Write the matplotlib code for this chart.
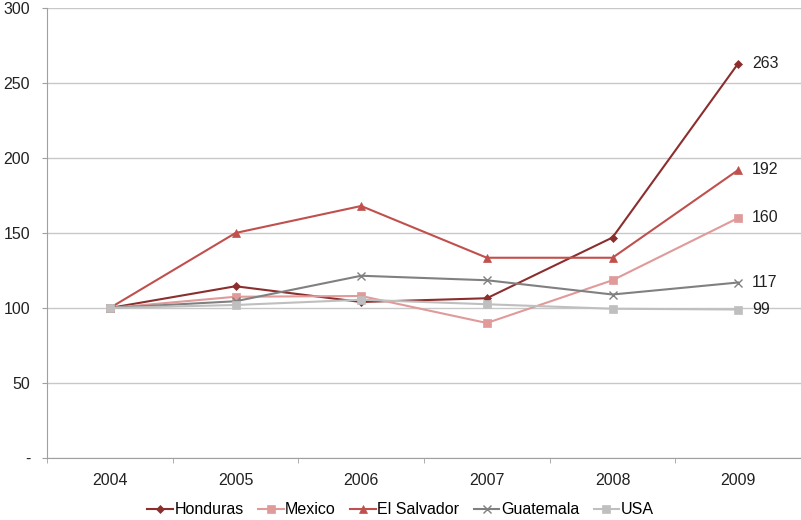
import matplotlib
matplotlib.use("Agg")
import matplotlib.pyplot as plt
from matplotlib.ticker import FixedLocator

plt.rcParams['font.family'] = ['Liberation Sans', 'DejaVu Sans']

years = ["2004", "2005", "2006", "2007", "2008", "2009"]
honduras = [100, 114.5, 104, 106.5, 147, 263]
mexico = [100, 107.5, 108, 90, 118.5, 160]
el_salvador = [100, 150, 168, 133.5, 133.5, 192]
guatemala = [100, 104.5, 121.5, 118.5, 109, 117]
usa = [100, 102, 105.5, 102.5, 99.5, 99]

series = [
    ("Honduras", honduras, "#8B2E2E", "D", 4.5),
    ("Mexico", mexico, "#E09A9A", "s", 6),
    ("El Salvador", el_salvador, "#C0504D", "^", 6),
    ("Guatemala", guatemala, "#808080", "x", 6),
    ("USA", usa, "#BFBFBF", "s", 6),
]

fig = plt.figure(figsize=(8.01, 5.20), dpi=100)
ax = fig.add_axes([47 / 801, 62 / 520, 754 / 801, 450 / 520])

x = list(range(len(years)))
for name, vals, color, marker, ms in series:
    ax.plot(x, vals, color=color, marker=marker, markersize=ms, linewidth=1.5,
            markeredgewidth=1.0 if marker == "x" else 0.5,
            markeredgecolor=color, label=name, zorder=3)
    ax.annotate(f"{vals[-1]:.0f}", (x[-1], vals[-1]), xytext=(10, 0),
                textcoords="offset points", va="center", ha="left",
                fontsize=11.5, color="#222222")

ax.set_xlim(-0.5, len(years) - 0.5)
ax.set_ylim(0, 300)
ax.set_yticks(range(0, 301, 50))
ax.set_yticklabels(["-"] + [str(v) for v in range(50, 301, 50)])
ax.yaxis.grid(True, color="#C8C8C8", linewidth=1)
ax.set_axisbelow(True)

ax.set_xticks(x)
ax.set_xticklabels(years)
ax.xaxis.set_minor_locator(FixedLocator([i - 0.5 for i in range(len(years) + 1)]))
ax.tick_params(axis="x", which="major", length=0, pad=11, labelsize=11.5, labelcolor="#222222")
ax.tick_params(axis="x", which="minor", length=3.6, color="#A0A0A0", direction="out")
ax.tick_params(axis="y", length=3.6, color="#A0A0A0", pad=8.5, labelsize=11.5, labelcolor="#222222")

for side in ("top", "right"):
    ax.spines[side].set_visible(False)
for side in ("left", "bottom"):
    ax.spines[side].set_color("#A0A0A0")

fig.legend(loc="center", bbox_to_anchor=(0.5, 10 / 520), ncol=5, frameon=False,
           fontsize=11.5, handlelength=1.6, handletextpad=0.1, columnspacing=0.9,
           borderpad=0)

fig.savefig("out.png", dpi=100)
